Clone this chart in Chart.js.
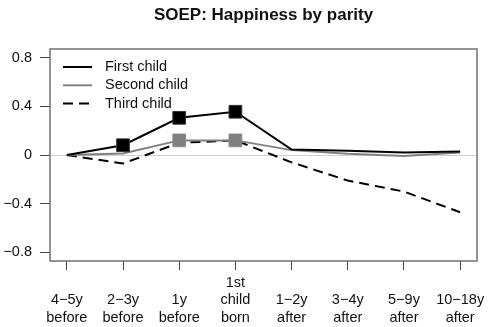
<!DOCTYPE html>
<html>
<head>
<meta charset="utf-8">
<script src="https://cdn.jsdelivr.net/npm/chart.js@4"></script>
<style>
html,body{margin:0;padding:0;background:#fff;}
#wrap{width:490px;height:327px;}
</style>
</head>
<body>
<div id="wrap"><canvas id="c" width="490" height="327"></canvas></div>
<script>
const categories = [["", "4\u22125y","before"],["", "2\u22123y","before"],["", "1y","before"],["1st","child","born"],["", "1\u22122y","after"],["", "3\u22124y","after"],["", "5\u22129y","after"],["", "10\u221218y","after"]];
const firstChild  = [0, 0.08, 0.305, 0.355, 0.045, 0.035, 0.02, 0.028];
const secondChild = [0, 0.012, 0.12, 0.12, 0.04, 0.01, -0.008, 0.02];
const thirdChild  = [0, -0.07, 0.1, 0.12, -0.06, -0.21, -0.30, -0.47];
const firstMarkers  = [0, 1, 1, 1, 0, 0, 0, 0];
const secondMarkers = [0, 0, 1, 1, 0, 0, 0, 0];
const yTicks = [-0.8, -0.4, 0, 0.4, 0.8];
const title = "SOEP: Happiness by parity";
const seriesNames = ["First child", "Second child", "Third child"];

const FONT = "'Liberation Sans', Arial, Helvetica, sans-serif";
const toXY = arr => arr.map((v, i) => ({x: i, y: v}));
const R = 9;

const framePlugin = {
  id: 'frame',
  beforeDatasetsDraw(chart) {
    const {ctx, chartArea: a, scales} = chart;
    ctx.save();
    const y0 = scales.y.getPixelForValue(0);
    ctx.strokeStyle = '#d0d0d0';
    ctx.lineWidth = 1;
    ctx.beginPath();
    ctx.moveTo(a.left, Math.round(y0) + 0.5);
    ctx.lineTo(a.right, Math.round(y0) + 0.5);
    ctx.stroke();
    ctx.restore();
  },
  afterDraw(chart) {
    const {ctx, chartArea: a} = chart;
    ctx.save();
    ctx.strokeStyle = '#707070';
    ctx.lineWidth = 1.5;
    ctx.strokeRect(a.left, a.top, a.right - a.left, a.bottom - a.top);
    // title
    ctx.fillStyle = '#111';
    ctx.font = "bold 17px " + FONT;
    ctx.textAlign = 'center';
    ctx.textBaseline = 'middle';
    ctx.fillText(title, (a.left + a.right) / 2, 15);
    // legend
    const styles = [
      {color: '#000', dash: []},
      {color: '#808080', dash: []},
      {color: '#000', dash: [10, 6]}
    ];
    ctx.font = "14.5px " + FONT;
    ctx.textAlign = 'left';
    ctx.textBaseline = 'middle';
    for (let i = 0; i < 3; i++) {
      const y = 67 + i * 18.3;
      ctx.strokeStyle = styles[i].color;
      ctx.lineWidth = 2;
      ctx.setLineDash(styles[i].dash);
      ctx.beginPath();
      ctx.moveTo(63, y);
      ctx.lineTo(92, y);
      ctx.stroke();
      ctx.setLineDash([]);
      ctx.fillStyle = '#111';
      ctx.fillText(seriesNames[i], 105, y);
    }
    ctx.restore();
  }
};

new Chart(document.getElementById('c'), {
  type: 'line',
  data: {
    datasets: [
      {
        label: seriesNames[0], data: toXY(firstChild),
        borderColor: '#000', borderWidth: 2, tension: 0,
        pointStyle: 'rect', pointRadius: firstMarkers.map(m => m ? R : 0),
        pointBackgroundColor: '#000', pointBorderColor: '#333', pointBorderWidth: 1
      },
      {
        label: seriesNames[1], data: toXY(secondChild),
        borderColor: '#808080', borderWidth: 2, tension: 0,
        pointStyle: 'rect', pointRadius: secondMarkers.map(m => m ? R : 0),
        pointBackgroundColor: '#808080', pointBorderColor: '#8a8a8a', pointBorderWidth: 1
      },
      {
        label: seriesNames[2], data: toXY(thirdChild),
        borderColor: '#000', borderWidth: 2, borderDash: [10, 6], tension: 0,
        pointRadius: 0
      }
    ]
  },
  options: {
    responsive: false,
    animation: false,
    devicePixelRatio: 1,
    layout: {padding: {top: 49, right: 13, left: 0, bottom: 0}},
    plugins: {legend: {display: false}, title: {display: false}, tooltip: {enabled: false}},
    scales: {
      x: {
        type: 'linear', min: -0.3, max: 7.3,
        afterBuildTicks: s => { s.ticks = categories.map((c, i) => ({value: i})); },
        afterFit: s => { s.height = 66; },
        grid: {drawOnChartArea: false, drawTicks: true, tickLength: 9, color: '#444', lineWidth: 1},
        border: {display: false},
        ticks: {
          autoSkip: false, maxRotation: 0, color: '#111', padding: 4,
          font: {family: FONT, size: 14.5, lineHeight: 1.21},
          callback: (v) => categories[v]
        }
      },
      y: {
        min: -0.87, max: 0.87,
        afterBuildTicks: s => { s.ticks = yTicks.map(v => ({value: v})); },
        afterFit: s => { s.width = 50; },
        grid: {drawOnChartArea: false, drawTicks: true, tickLength: 10, color: '#444', lineWidth: 1},
        border: {display: false},
        ticks: {
          color: '#111', padding: 8,
          font: {family: FONT, size: 14.5},
          callback: v => v === 0 ? '0' : (v < 0 ? '\u2212' + Math.abs(v).toFixed(1) : v.toFixed(1))
        }
      }
    }
  },
  plugins: [framePlugin]
});
</script>
</body>
</html>
